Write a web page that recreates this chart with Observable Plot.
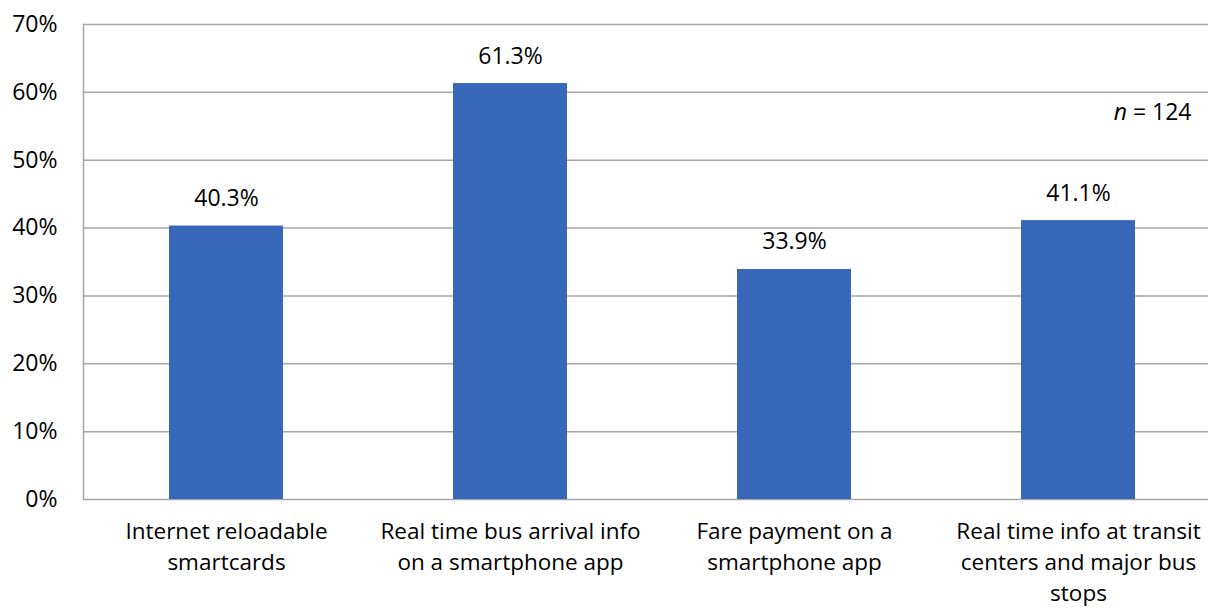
<!DOCTYPE html>
<html>
<head>
<meta charset="utf-8">
<script src="https://cdn.jsdelivr.net/npm/d3@7"></script>
<script src="https://cdn.jsdelivr.net/npm/@observablehq/plot@0.6"></script>
<style>
  html, body { margin: 0; padding: 0; background: #fff; }
  #chart svg { display: block; }
</style>
</head>
<body>
<div id="chart"></div>
<script>
// Data
const categories = [
  "Internet reloadable smartcards",
  "Real time bus arrival info on a smartphone app",
  "Fare payment on a smartphone app",
  "Real time info at transit centers and major bus stops"
];
const tickLabels = [
  "Internet reloadable\nsmartcards",
  "Real time bus arrival info\non a smartphone app",
  "Fare payment on a\nsmartphone app",
  "Real time info at transit\ncenters and major bus\nstops"
];
const values = [0.403, 0.613, 0.339, 0.411];
const yTicks = [0, 0.1, 0.2, 0.3, 0.4, 0.5, 0.6, 0.7];
const sampleNote = ["n = 124"];

const rows = categories.map((c, i) => ({category: c, value: values[i]}));
const labelOf = new Map(categories.map((c, i) => [c, tickLabels[i]]));

const FONT = "'Open Sans', 'Noto Sans', sans-serif";
const FS = 23;
const FSX = 22.5;
const GRID = "#a6a6a6";

const chart = Plot.plot({
  width: 1208,
  height: 610,
  marginTop: 24,
  marginBottom: 111,
  marginLeft: 83,
  marginRight: 0,
  style: {fontFamily: FONT, fontSize: FS + "px", color: "#000", background: "#fff", overflow: "hidden"},
  x: {domain: categories, range: [83, 1221], paddingInner: 0.6, paddingOuter: 0.3, label: null},
  y: {domain: [0, 0.7], label: null},
  marks: [
    Plot.gridY(yTicks, {stroke: GRID, strokeOpacity: 1, strokeWidth: 1.5}),
    Plot.frame({anchor: "left", stroke: GRID, strokeWidth: 1.5}),
    Plot.barY(rows, {x: "category", y: "value", fill: "#3667b8"}),
    Plot.text(rows, {
      x: "category", y: "value",
      text: d => d3.format(".1%")(d.value),
      lineAnchor: "bottom", dy: -20, fill: "#000", fontSize: FS
    }),
    Plot.axisY(yTicks, {
      tickSize: 0, tickPadding: 26, tickFormat: d3.format(".0%"),
      fontSize: FS, fill: "#000", label: null
    }),
    Plot.axisX({
      tickSize: 0, tickPadding: 18, tickFormat: d => labelOf.get(d),
      fontSize: FSX, fill: "#000", lineHeight: 1.37, label: null
    }),
    Plot.text(sampleNote, {
      frameAnchor: "top-right", text: d => d, textAnchor: "end", lineAnchor: "bottom",
      dx: -17, dy: 95, fill: "#000", fontSize: FS
    })
  ]
});

document.getElementById("chart").appendChild(chart);

// italic "n" in the sample-size note
d3.select(chart).selectAll("text").each(function() {
  if (this.textContent === sampleNote[0]) {
    const t = d3.select(this);
    const rest = sampleNote[0].slice(1);
    t.text(null);
    t.append("tspan").attr("font-style", "italic").text("n");
    t.append("tspan").text(rest);
  }
});
</script>
</body>
</html>
